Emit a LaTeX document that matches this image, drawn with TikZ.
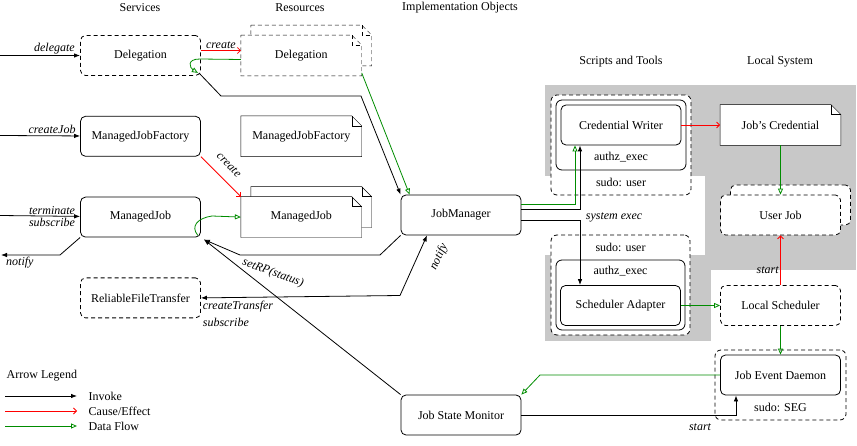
\documentclass[tikz,border=0pt]{standalone}
\usepackage{fontspec}
\setmainfont{Liberation Serif}
\usetikzlibrary{positioning, arrows.meta, backgrounds}

\definecolor{backgray}{RGB}{200,200,200}
\definecolor{flow}{RGB}{0,140,0}

\tikzset{
	box/.style={rectangle, rounded corners=5pt, draw, fill=white, minimum width=120pt, minimum height=40pt, inner sep=0pt},
	note/.style={rectangle, minimum width=120pt, minimum height=40pt, inner sep=0pt},
	group/.style={rectangle, rounded corners=6pt, draw, fill=white, inner sep=0pt},
	broken/.style={dash pattern=on 4pt off 3pt},
	lab/.style={font=\fontsize{12}{14}\selectfont\itshape, text=black, inner sep=1.5pt},
	invoke/.style={-{Latex[length=6pt,width=4.5pt]}},
	cause/.style={red, -{Straight Barb[length=3pt,width=6pt]}},
	dataflow/.style={flow, -{Triangle[open,length=6pt,width=5pt]}},
}

% dog-eared outline round a node
\newcommand{\dognote}[2][]{%
	\filldraw[fill=white,#1] (#2.north west) -- ([xshift=-10pt]#2.north east) -- ([yshift=-10pt]#2.north east) -- (#2.south east) -- (#2.south west) -- cycle;
	\draw[#1] ([xshift=-10pt]#2.north east) |- ([yshift=-10pt]#2.north east);}

\begin{document}
\begin{tikzpicture}[x=1pt, y=-1pt, line width=0.8pt, font=\fontsize{12}{14}\selectfont]
	\useasboundingbox (0,0) rectangle (857,446);

	% column titles
	\draw node (tsvc) at (140,8) {Services};
	\draw node (tres) at (300,8) {Resources};
	\draw node (timp) at (460,8) {Implementation Objects};
	\draw node (tscr) at (621,62) {Scripts and Tools};
	\draw node (tloc) at (780,62) {Local System};

	% services
	\draw node (svcdel)[box, broken] at (140.5,55.5) {Delegation};
	\draw node (svcmjf)[box, below=40pt of svcdel] {ManagedJobFactory};
	\draw node (svcmj)[box, below=40pt of svcmjf] {ManagedJob};
	\draw node (svcrft)[box, broken, below=40pt of svcmj] {ReliableFileTransfer};

	% resources
	\draw node (resdel)[note, right=40pt of svcdel] {Delegation};
	\draw node (resdelb)[note] at ([xshift=10pt,yshift=10pt]resdel.center) {};
	\draw node (resmjf)[note, right=40pt of svcmjf] {ManagedJobFactory};
	\draw node (resmj)[note, right=40pt of svcmj] {ManagedJob};
	\draw node (resmjb)[note] at ([xshift=10pt,yshift=10pt]resmj.center) {};

	% implementation objects
	\draw node (jm)[box] at (461,215) {JobManager};
	\draw node (jsm)[box] at (461,415) {Job State Monitor};

	% scripts and tools
	\draw node (credsu)[group, broken, minimum width=140pt, minimum height=100pt] at (621,145) {};
	\draw node (credax)[group, minimum width=130pt, minimum height=70pt] at (621,135) {};
	\draw node (credw)[box] at (621,125) {Credential Writer};
	\draw node (credaxl) at (621,157) {authz\_exec};
	\draw node (credsul) at (621,182) {sudo: user};
	\draw node (schsu)[group, broken, minimum width=139pt, minimum height=100pt] at (620.5,285) {};
	\draw node (schax)[group, minimum width=129pt, minimum height=70pt] at (620.5,295) {};
	\draw node (schad)[box] at (620.5,305.5) {Scheduler Adapter};
	\draw node (schsul) at (620.5,247) {sudo: user};
	\draw node (schaxl) at (620.5,271) {authz\_exec};

	% local system
	\draw node (jcred)[note] at (780.5,125) {Job's Credential};
	\draw node (ujobb)[box, broken] at (790.5,205) {};
	\draw node (ujob)[box, broken] at (780.5,215) {User Job};
	\draw node (lsched)[box, broken] at (780.5,305.5) {Local Scheduler};
	\draw node (jedsu)[group, broken, minimum width=131pt, minimum height=70pt] at (780.5,385) {};
	\draw node (jed)[box] at (780.5,375) {Job Event Daemon};
	\draw node (jedsul) at (780.5,407) {sudo: SEG};

	\begin{scope}[on background layer]
		\fill[backgray] (545,85) rectangle (856,176);
		\fill[backgray] (705,85) rectangle (856,270);
		\fill[backgray] (545,255) rectangle (711,341);
		\dognote[broken]{resdelb}
		\dognote[broken]{resdel}
		\dognote{resmjf}
		\dognote{resmjb}
		\dognote{resmj}
		\dognote{jcred}
	\end{scope}

	% calls from outside
	\coordinate (indel) at (0,55.5);
	\coordinate (inmjf) at (0,135.5);
	\coordinate (inmj) at (0,215.5);
	\coordinate (outnot) at (1,255);
	\draw[invoke] (indel) -- node[lab, above, pos=0.68] {delegate} (svcdel);
	\draw[invoke] (inmjf) -- node[lab, above, pos=0.65] {createJob} (svcmjf);
	\draw[invoke] (inmj) -- node[lab, above, pos=0.65] {terminate} node[lab, below, pos=0.65] {subscribe} (svcmj);
	\draw[invoke] (svcmj.south west) -- (60,255) -- node[lab, below, pos=0.68] {notify} (outnot);

	% services and resources
	\draw[cause] ([yshift=5pt]svcdel.east) -- node[lab, above] {create} ([yshift=5pt]resdel.west);
	\draw[dataflow] ([yshift=-4pt]resdel.west) -- (200,59) .. controls (186,59) and (190,68) .. ([xshift=-3pt,yshift=3pt]svcdel.south east);
	\draw[cause] (svcmjf.south east) -- (resmj.north west);
	\draw node (mjcre)[lab, rotate=-45] at (229,165) {create};
	\draw[dataflow] ([xshift=-3pt,yshift=2pt]svcmj.south east) .. controls (190,226) and (198,218) .. (212,216) -- (resmj.west);

	% to and from the job manager
	\draw[invoke] ([xshift=-2pt,yshift=3pt]svcdel.south east) -- (221,96) -- (361,96) -- (jm.north west);
	\draw[dataflow] ([yshift=3pt]resdel.south east) -- ([xshift=9pt]jm.north west);
	\draw[invoke] (jm.south west) -- (380,255) -- (240,255) -- ([xshift=3pt,yshift=-2pt]svcmj.south east);
	\draw[invoke] (jsm.north west) -- ([xshift=3pt,yshift=-2pt]svcmj.south east);
	\draw node (setrp)[lab, rotate=-20] at (273,273) {setRP(status)};
	\coordinate (nbend) at (400,295.5);
	\draw[invoke] (nbend) -- (svcrft.east);
	\draw[invoke] (nbend) -- ([xshift=-34pt]jm.south);
	\draw node (crtr)[lab, anchor=west] at (201,307) {createTransfer};
	\draw node (rftsub)[lab, anchor=west] at (201,322) {subscribe};
	\draw node (notlab)[lab, rotate=65] at (439,257) {notify};

	% scripts, tools and local system
	\draw[dataflow] ([yshift=-10pt]jm.north east) -| ([xshift=-46pt]credw.south);
	\draw[invoke] ([yshift=-15pt]jm.north east) -| ([xshift=-41pt]credw.south);
	\draw[invoke] ([yshift=-5pt]jm.east) -| ([xshift=-40.5pt]schad.north);
	\draw node (sysex)[lab, anchor=west] at (584,217) {system exec};
	\draw[cause] (credw) -- (jcred);
	\draw[dataflow] (jcred) -- (ujob);
	\draw[cause] (lsched) -- node[lab, left, pos=0.3] {start} (ujob);
	\draw[dataflow] (schad) -- (lsched);
	\draw[dataflow] (lsched) -- (jed);
	\draw[dataflow] (jed.west) -- (540,375) -- (jsm.north east);
	\draw[invoke] (jsm.east) -| ([xshift=-44.5pt]jed.south);
	\draw node (jedstart)[lab] at (700,427) {start};

	% legend
	\draw node (leg)[anchor=west] at (3,376) {Arrow Legend};
	\coordinate (l1a) at (5,396); \coordinate (l1b) at (77,396);
	\coordinate (l2a) at (5,411); \coordinate (l2b) at (77,411);
	\coordinate (l3a) at (5,426); \coordinate (l3b) at (77,426);
	\draw[invoke] (l1a) -- (l1b) node (leginv)[anchor=west, xshift=8pt, text=black] {Invoke};
	\draw[cause] (l2a) -- (l2b) node (legcau)[anchor=west, xshift=8pt, text=black] {Cause/Effect};
	\draw[dataflow] (l3a) -- (l3b) node (legdat)[anchor=west, xshift=8pt, text=black] {Data Flow};
\end{tikzpicture}
\end{document}
